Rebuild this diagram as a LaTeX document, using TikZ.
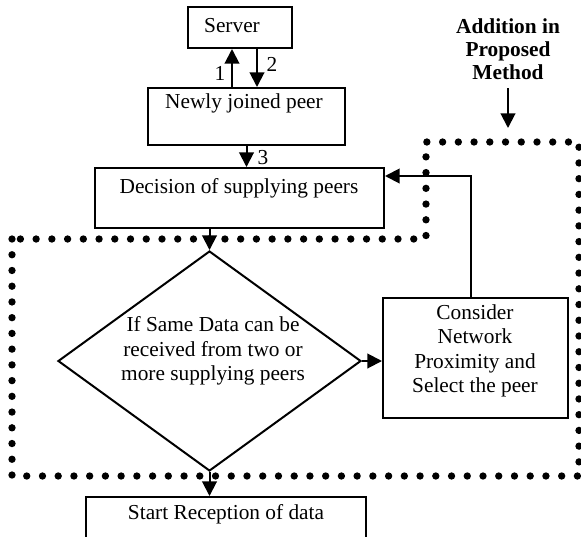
\documentclass[tikz,border=0pt]{standalone}
\usepackage{fontspec}
\setmainfont{Liberation Serif}
\usetikzlibrary{arrows.meta,shapes.geometric}
\begin{document}
\begin{tikzpicture}[x=0.75pt,y=-0.75pt,
  box/.style={draw,line width=1.5pt,inner sep=0pt,rectangle},
  txt/.style={inner sep=0pt,align=center,font=\fontsize{16}{18.4}\selectfont},
  arr/.style={line width=1.5pt,-{Triangle[length=11pt,width=11pt]}},
  dots/.style={line width=5.5pt,line cap=round,dash pattern=on 0pt off 11.8pt}]
\clip (0,0) rectangle (581,536);
\useasboundingbox (0,0) rectangle (581,536);
% boxes
\node[box,minimum width=78pt,minimum height=30.75pt] (server) at (240,27.5) {};
\node[box,minimum width=147.75pt,minimum height=42.75pt] (newly) at (246.5,116.5) {};
\node[box,minimum width=216.75pt,minimum height=45pt] (decision) at (239.5,198) {};
\node[draw,line width=1.5pt,diamond,inner sep=0pt,minimum width=227.25pt,minimum height=165pt] (cond) at (209.5,361) {};
\node[box,minimum width=138.75pt,minimum height=90pt] (consider) at (475.5,358) {};
\node[box,minimum width=210pt,minimum height=45pt] (start) at (226,527) {};
% texts
\node[txt] (tserver) at (232,26) {Server};
\node[txt] (tnewly) at (244,103) {Newly joined peer};
\node[txt] (tdecision) at (239,188) {Decision of supplying peers};
\node[txt] (tcond) at (213,351) {If Same Data can be\\received from two or\\more supplying peers};
\node[txt] (tconsider) at (475,351) {Consider\\Network\\Proximity and\\Select the peer};
\node[txt] (tstart) at (226,514) {Start Reception of data};
\node[txt,font=\fontsize{16}{17.25}\selectfont\bfseries] (tadd) at (508,49) {Addition in\\Proposed\\Method};
\node[txt] (l1) at (220,73) {1};
\node[txt] (l2) at (272,64) {2};
\node[txt] (l3) at (263,158) {3};
% helper coordinates
\coordinate (x1) at (232,0);
\coordinate (x2) at (257,0);
\coordinate (addtail) at (508,88);
\coordinate (addtip) at (508,128);
% connectors
\draw[arr] (newly.north -| x1) -- (server.south -| x1);
\draw[arr] (server.south -| x2) -- (newly.north -| x2);
\draw[arr] (newly.south) -- (newly.south |- decision.north);
\draw[arr] (cond.north |- decision.south) -- (cond.north);
\draw[arr] (cond.east) -- (cond.east -| consider.west);
\draw[arr] ([xshift=-3.4pt]consider.north) |- ([yshift=16.5pt]decision.east);
\draw[arr] (cond.south) -- (cond.south |- start.north);
\draw[arr] (addtail) -- (addtip);
% dotted region
\draw[dots] (12,239) -- (12,476) -- (579,476) -- (579,142) -- (426,142) -- (426,239) -- cycle;
\end{tikzpicture}
\end{document}
